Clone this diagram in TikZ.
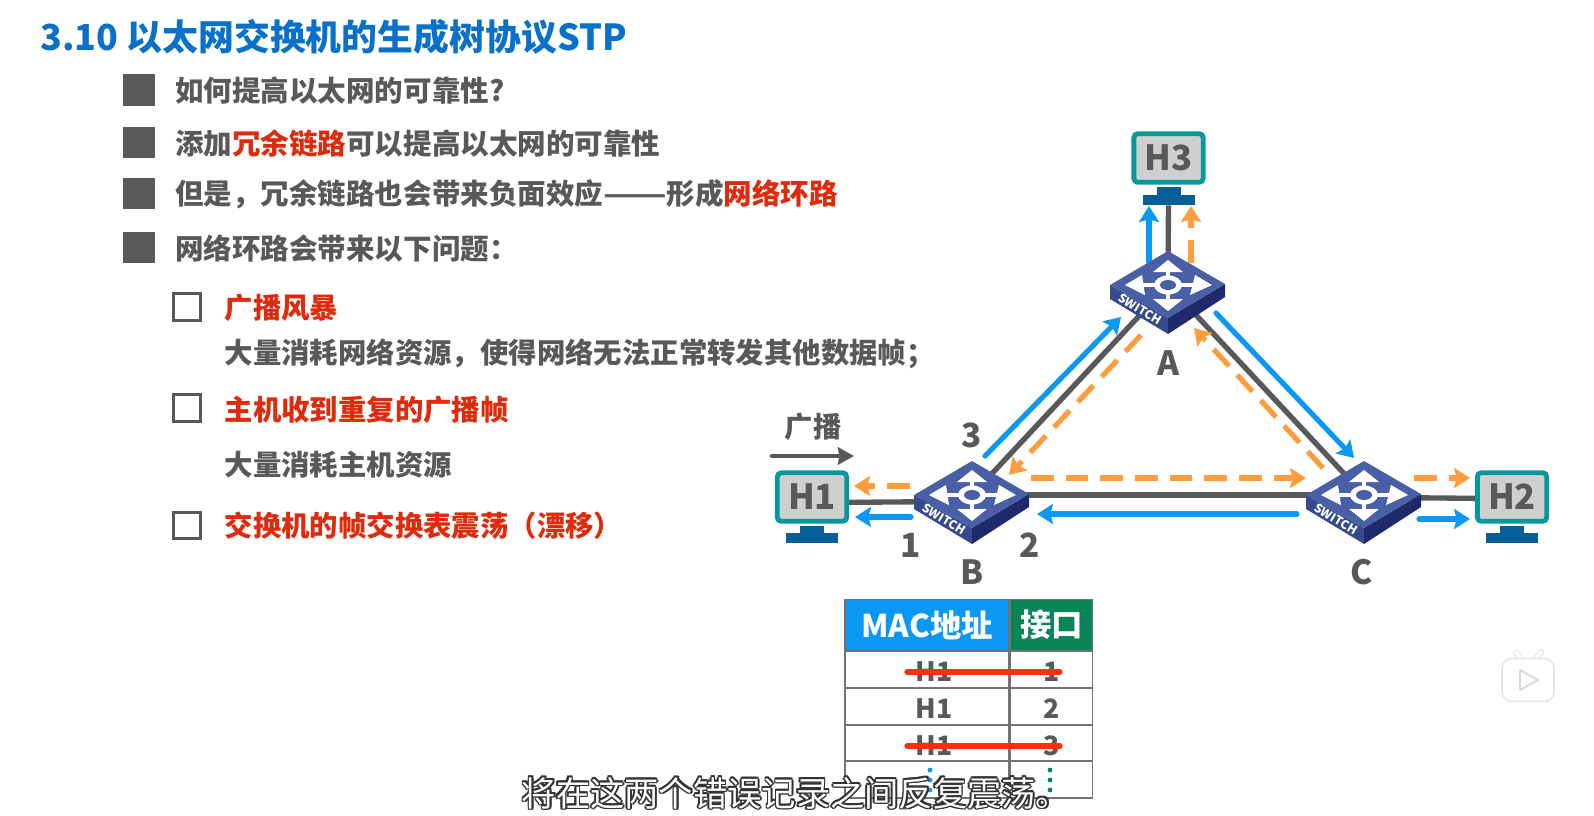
\documentclass[tikz,border=0pt]{standalone}
\usepackage{fontspec}
\setmainfont{Noto Sans CJK SC}
\usetikzlibrary{shapes,arrows.meta,positioning}
\definecolor{bodygray}{HTML}{595959}
\definecolor{hotred}{HTML}{DF2A0C}
\definecolor{titleblue}{HTML}{0A70C8}
\definecolor{flowblue}{HTML}{0A98F2}
\definecolor{floworange}{HTML}{FF9C3E}
\definecolor{hostteal}{HTML}{07989C}
\definecolor{hostfill}{HTML}{CFCFCF}
\definecolor{standblue}{HTML}{065F96}
\definecolor{headgreen}{HTML}{0B8458}
\definecolor{strikered}{HTML}{F5320F}
\definecolor{swtop}{HTML}{4A60A6}
\definecolor{swleft}{HTML}{37498F}
\definecolor{swright}{HTML}{1E2A6A}
\newcommand{\fs}[1]{\fontsize{#1}{#1}\selectfont\bfseries}
\newcommand{\hot}[1]{{\color{hotred}#1}}
\newcommand{\outlined}[1]{{\color{black!80}%
\rlap{\raisebox{1.3pt}{#1}}\rlap{\raisebox{-1.3pt}{#1}}%
\rlap{\hspace{1.3pt}#1}\rlap{\hspace{-1.3pt}#1}%
\rlap{\hspace{.9pt}\raisebox{.9pt}{#1}}\rlap{\hspace{-.9pt}\raisebox{.9pt}{#1}}%
\rlap{\hspace{.9pt}\raisebox{-.9pt}{#1}}\rlap{\hspace{-.9pt}\raisebox{-.9pt}{#1}}}%
{\color{white}#1}}
\newcommand{\switchicon}[1]{
  \begin{scope}[shift={(#1)}]
    \fill [swleft] (-58,0) -- (0,33) -- (0,49) -- (-58,14) -- cycle;
    \fill [swright] (57,-1) -- (0,33) -- (0,49) -- (57,12) -- cycle;
    \fill [swtop] (-58,0) -- (0,-34) -- (57,-1) -- (0,33) -- cycle;
    \draw [white,line width=3.6pt] (-30,0) -- (30,0);
    \draw [white,line width=3.6pt] (0,-16) -- (0,17);
    \fill [white] (-43,0) -- (-26,-10) -- (-23,10) -- cycle;
    \fill [white] (44,0) -- (27,-10) -- (22,10) -- cycle;
    \fill [white] (0,-25) -- (-15,-13) -- (15,-13) -- cycle;
    \fill [white] (0,26) -- (-15,14) -- (15,14) -- cycle;
    \fill [white] (0,0) ellipse (14 and 9.5);
    \fill [swtop] (0,0) ellipse (8 and 5);
    \node [rotate=-31,white,font=\fontsize{9}{9}\selectfont\bfseries,inner sep=0pt] at (-28,24) {SWITCH};
  \end{scope}
}

\begin{document}
\begin{tikzpicture}[x=0.75pt,y=-0.75pt]
    \tikzstyle{bullet}=[rectangle,fill=bodygray,minimum width=23.5pt,minimum height=23.5pt,inner sep=0pt]
    \tikzstyle{tick}=[rectangle,draw=bodygray,line width=2.2pt,minimum width=20pt,minimum height=20pt,inner sep=0pt]
    \tikzstyle{line}=[text=bodygray,font=\fs{21.4},inner sep=0pt,yshift=-.7pt]
    \tikzstyle{redline}=[text=hotred,font=\fs{21.3},inner sep=0pt,anchor=west]
    \tikzstyle{subline}=[text=bodygray,font=\fs{21.3},inner sep=0pt,anchor=west]
    \tikzstyle{host}=[rectangle,rounded corners=3pt,draw=hostteal,line width=3.6pt,fill=hostfill,text=bodygray,
      font=\fs{26},minimum width=52pt,minimum height=36.5pt,inner sep=0pt]
    \tikzstyle{neck}=[rectangle,fill=standblue,minimum width=18pt,minimum height=6pt,inner sep=0pt]
    \tikzstyle{base}=[rectangle,fill=standblue,minimum width=39pt,minimum height=7.5pt,inner sep=0pt]
    \tikzstyle{switchspot}=[circle,minimum size=1pt,inner sep=0pt]
    \tikzstyle{tag}=[text=bodygray,font=\fs{25},inner sep=0pt]
    \tikzstyle{link}=[draw=bodygray,line width=4pt]
    \tikzstyle{blue}=[draw=flowblue,line width=3.9pt,line cap=round,-{Stealth[length=12pt,width=15pt,inset=2pt]}]
    \tikzstyle{orange}=[draw=floworange,line width=3.9pt,dash pattern=on 17pt off 9pt,-{Stealth[length=12pt,width=15pt,inset=2pt]}]
    \tikzstyle{cell}=[rectangle,draw=bodygray!85,line width=1.2pt,text=bodygray,font=\fs{20},inner sep=0pt,minimum height=27.6pt,text height=18.4pt,text depth=0pt]
    \tikzstyle{head}=[rectangle,draw=bodygray!85,line width=1pt,text=white,font=\fs{23.5},inner sep=0pt,minimum height=38pt]
    \tikzstyle{strike}=[draw=strikered,line width=4pt,line cap=round]
    \tikzstyle{dot}=[circle,inner sep=0pt,minimum size=3.6pt]

    \useasboundingbox (0,0) rectangle (1594,815);

    % left column
    \node(title) [anchor=west,text=titleblue,font=\fs{26.9},inner sep=0pt] at (40,36.5) {3.10 以太网交换机的生成树协议STP};

    \node(b1) [bullet] at (139,90) {};
    \node(b2) [bullet] at (139,142.5) {};
    \node(b3) [bullet] at (139,193.5) {};
    \node(b4) [bullet] at (139,247.5) {};
    \node(t1) [line,right=15pt of b1] {如何提高以太网的可靠性?};
    \node(t2) [line,right=15pt of b2] {添加\hot{冗余链路}可以提高以太网的可靠性};
    \node(t3) [line,right=15pt of b3] {但是，冗余链路也会带来负面效应\scalebox{1.3}[1]{——}形成\hot{网络环路}};
    \node(t4) [line,right=15pt of b4] {网络环路会带来以下问题：};

    \node(c1) [tick] at (187,307) {};
    \node(c2) [tick] at (187,408) {};
    \node(c3) [tick] at (187,525.5) {};
    \node(r1) [redline] at (224.5,308) {广播风暴};
    \node(s1) [subline] at (224.5,354) {大量消耗网络资源，使得网络无法正常转发其他数据帧；};
    \node(r2) [redline] at (224.5,410) {主机收到重复的广播帧};
    \node(s2) [subline] at (224.5,465) {大量消耗主机资源};
    \node(r3) [redline] at (224.5,526) {交换机的帧交换表震荡（漂移）};

    % hosts and switches
    \node(H1) [host] at (812,497) {H1};
    \node(H2) [host] at (1512,497) {H2};
    \node(H3) [host] at (1168.5,158) {H3};
    \node(H1n) [neck] at (812,529.5) {};
    \node(H2n) [neck] at (1512,529.5) {};
    \node(H3n) [neck] at (1168.5,191) {};
    \node(H1b) [base] at (812,538) {};
    \node(H2b) [base] at (1512,538) {};
    \node(H3b) [base] at (1168.5,200) {};

    \node(A) [switchspot] at (1168,285) {};
    \node(B) [switchspot] at (972,495) {};
    \node(C) [switchspot] at (1364,495) {};

    \draw [link] (A) -- (B);
    \draw [link] (A) -- (C);
    \draw [link] (B) -- (C);
    \draw [link] (H3b) -- (A);
    \draw [link] ([yshift=-4pt]H1.east) -- ([xshift=-30pt,yshift=-5pt]B.center);
    \draw [link] ([yshift=-1pt]H2.west) -- ([xshift=30pt,yshift=-2pt]C.center);

    % flow arrows
    \coordinate (ba0) at (985,456);
    \coordinate (ba1) at (1121,317);
    \coordinate (ac0) at (1216,313);
    \coordinate (ac1) at (1354,458);
    \coordinate (cb0) at (1297,514);
    \coordinate (cb1) at (1037,514);
    \coordinate (bh0) at (911,517);
    \coordinate (bh1) at (855,517);
    \coordinate (ch0) at (1419,519);
    \coordinate (ch1) at (1470,519);
    \coordinate (ah0) at (1149,262);
    \coordinate (ah1) at (1149,206);
    \draw [blue] (ba0) -- (ba1);
    \draw [blue] (ac0) -- (ac1);
    \draw [blue] (cb0) -- (cb1);
    \draw [blue] (bh0) -- (bh1);
    \draw [blue] (ch0) -- (ch1);
    \draw [blue] (ah0) -- (ah1);

    \coordinate (ab2) at (1141,335);
    \coordinate (ab3) at (1009,475);
    \coordinate (bc2) at (1031,478);
    \coordinate (bc3) at (1306,478);
    \coordinate (ca2) at (1323,468);
    \coordinate (ca3) at (1194,328);
    \coordinate (bh2) at (910,486);
    \coordinate (bh3) at (854,486);
    \coordinate (ch2) at (1414,478);
    \coordinate (ch3) at (1470,478);
    \coordinate (ah2) at (1191,263);
    \coordinate (ah3) at (1191,206);
    \draw [orange] (ab2) -- (ab3);
    \draw [orange] (bc2) -- (bc3);
    \draw [orange] (ca2) -- (ca3);
    \draw [orange] (bh2) -- (bh3);
    \draw [orange] (ch2) -- (ch3);
    \draw [orange] (ah2) -- (ah3);

    \switchicon{A}
    \switchicon{B}
    \switchicon{C}

    \node(la) [tag] at (1168,363) {A};
    \node(lb) [tag] at (972,572) {B};
    \node(lc) [tag] at (1362,572) {C};
    \node(p1) [tag] at (911,545) {1};
    \node(p2) [tag] at (1030,545) {2};
    \node(p3) [tag] at (972,435) {3};

    \node(cast) [text=bodygray,font=\fs{21.3},inner sep=0pt] at (813,426.5) {广播};
    \coordinate (cast0) at (772,456);
    \coordinate (cast1) at (854,456);
    \draw [draw=bodygray,line width=3.4pt,line cap=round,-{Stealth[length=12pt,width=13pt,inset=1pt]}] (cast0) -- (cast1);

    % table
    \node(h1) [head,fill=flowblue,minimum width=123pt] at (927,625) {MAC地址};
    \node(h2) [head,fill=headgreen,minimum width=61.5pt,right=0pt of h1] {接口};
    \node(m1) [cell,minimum width=123pt] at (927,669.5) {\hspace{11pt}H1};
    \node(n1) [cell,minimum width=61.5pt,right=0pt of m1] {1};
    \node(m2) [cell,minimum width=123pt] at (927,706.5) {\hspace{11pt}H1};
    \node(n2) [cell,minimum width=61.5pt,right=0pt of m2] {2};
    \node(m3) [cell,minimum width=123pt] at (927,743) {\hspace{11pt}H1};
    \node(n3) [cell,minimum width=61.5pt,right=0pt of m3] {3};
    \node(m4) [cell,minimum width=123pt] at (927,779.5) {};
    \node(n4) [cell,minimum width=61.5pt,right=0pt of m4] {};
    \node(d1) [dot,fill=flowblue] at (930,770) {};
    \node(d2) [dot,fill=flowblue] at (930,780) {};
    \node(d3) [dot,fill=flowblue] at (930,790) {};
    \node(d4) [dot,fill=headgreen] at (1050,770) {};
    \node(d5) [dot,fill=headgreen] at (1050,780) {};
    \node(d6) [dot,fill=headgreen] at (1050,790) {};
    \coordinate (k1a) at (907,672);
    \coordinate (k1b) at (1060,672);
    \coordinate (k3a) at (907,746);
    \coordinate (k3b) at (1060,746);
    \draw [strike] (k1a) -- (k1b);
    \draw [strike] (k3a) -- (k3b);

    % play badge and subtitle
    \coordinate (ant1) at (1516,652);
    \coordinate (ant2) at (1522,660);
    \coordinate (ant3) at (1541,652);
    \coordinate (ant4) at (1535,660);
    \draw [black!10,line width=4.4pt,line cap=round] (ant1) -- (ant2);
    \draw [black!10,line width=4.4pt,line cap=round] (ant3) -- (ant4);
    \draw [white,line width=2.8pt,line cap=round] (ant1) -- (ant2);
    \draw [white,line width=2.8pt,line cap=round] (ant3) -- (ant4);
    \node(tv) [rectangle,rounded corners=7pt,fill=white,draw=black!10,line width=1.2pt,minimum width=39pt,minimum height=32pt] at (1528,680) {};
    \draw [black!15,fill=white,line width=1.4pt,line join=round] (1520,670) -- (1538,680) -- (1520,690) -- cycle;

    \node(sub) [font=\fontsize{25.7}{25.7}\selectfont,inner sep=0pt] at (796,793) {\outlined{将在这两个错误记录之间反复震荡。}};
\end{tikzpicture}
\end{document}
